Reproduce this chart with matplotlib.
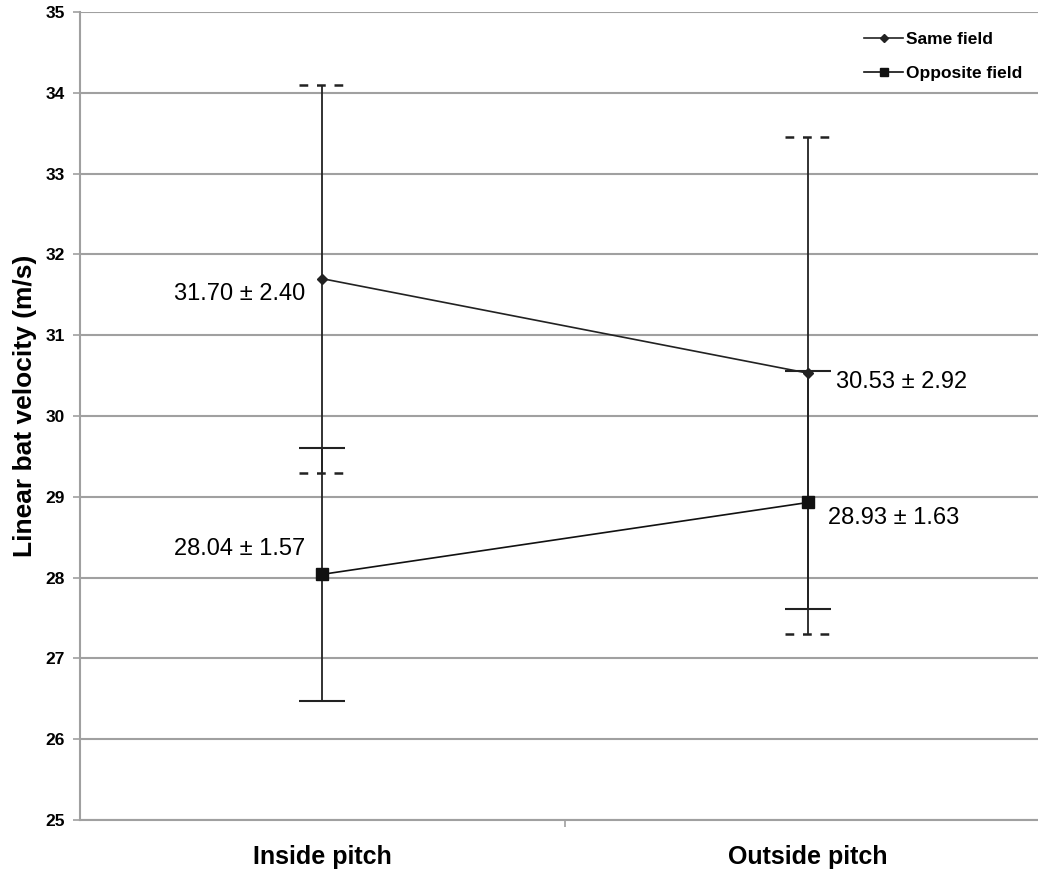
import matplotlib
matplotlib.use("Agg")
import matplotlib.pyplot as plt
import numpy as np

plt.rcParams['font.family'] = ['Liberation Sans', 'DejaVu Sans']

categories = ["Inside pitch", "Outside pitch"]
same_mean = [31.70, 30.53]
same_sd = [2.40, 2.92]
opp_mean = [28.04, 28.93]
opp_sd = [1.57, 1.63]
# cap styles (upper, lower) per category, as drawn in the reference
same_caps = [("--", "--"), ("--", "-")]
opp_caps = [("-", "-"), ("-", "--")]
yticks = list(range(25, 36))

fig = plt.figure(figsize=(10.38, 8.75), dpi=100)
ax = fig.add_axes([80/1038, 1-820/875, (1038-80)/1038, (820-12)/875])
x = np.arange(len(categories))

ax.set_ylim(25, 35)
ax.set_xlim(-0.498, 1.473)
ax.set_yticks(yticks)
ax.yaxis.grid(True, color='#a0a0a0', lw=1.5)
ax.set_axisbelow(True)
for s in ['top', 'right']:
    ax.spines[s].set_visible(False)
for s in ['left', 'bottom']:
    ax.spines[s].set_color('#a0a0a0')
    ax.spines[s].set_linewidth(1.5)

ax.set_xticks([0.5])
ax.set_xticklabels([])
ax.tick_params(axis='x', length=5, color='#a0a0a0', width=1.2)
ax.tick_params(axis='y', length=5, color='#a0a0a0', width=1.2, labelsize=12.5, pad=6)
for lab in ax.get_yticklabels():
    lab.set_fontweight('bold')

for xi, c in zip(x, categories):
    ax.text(xi, -0.0455, c, transform=ax.get_xaxis_transform(), ha='center', va='center',
            fontsize=18, fontweight='bold')

capw = 0.047

def draw_err(means, sds, caps):
    for xi, m, s, cs in zip(x, means, sds, caps):
        ax.vlines(xi, m - s, m + s, color='#222222', lw=1.3, zorder=3)
        for val, ls in ((m + s, cs[0]), (m - s, cs[1])):
            if ls == '--':
                ax.hlines(val, xi - capw, xi + capw, color='#222222', lw=1.8,
                          linestyles=(0, (3.5, 3.5)), zorder=3)
            else:
                ax.hlines(val, xi - capw, xi + capw, color='#222222', lw=1.5, zorder=3)

draw_err(same_mean, same_sd, same_caps)
draw_err(opp_mean, opp_sd, opp_caps)

ax.plot(x, same_mean, color='#222222', lw=1.2, marker='D', ms=5, zorder=4, label='Same field')
ax.plot(x, opp_mean, color='#111111', lw=1.2, marker='s', ms=8, zorder=4, label='Opposite field')

fs = 17
ax.annotate(f"{same_mean[0]:.2f} \u00b1 {same_sd[0]:.2f}", (x[0], same_mean[0]),
            xytext=(-12, -11), textcoords='offset points', ha='right', va='center', fontsize=fs)
ax.annotate(f"{opp_mean[0]:.2f} \u00b1 {opp_sd[0]:.2f}", (x[0], opp_mean[0]),
            xytext=(-12, 18), textcoords='offset points', ha='right', va='center', fontsize=fs)
ax.annotate(f"{same_mean[1]:.2f} \u00b1 {same_sd[1]:.2f}", (x[1], same_mean[1]),
            xytext=(20, -6), textcoords='offset points', ha='left', va='center', fontsize=fs)
ax.annotate(f"{opp_mean[1]:.2f} \u00b1 {opp_sd[1]:.2f}", (x[1], opp_mean[1]),
            xytext=(14, -11), textcoords='offset points', ha='left', va='center', fontsize=fs)

ax.set_ylabel("Linear bat velocity (m/s)", fontsize=19, fontweight='bold')
ax.yaxis.set_label_coords(-0.045, 0.513)

leg = ax.legend(loc='upper right', bbox_to_anchor=(1.0, 0.995), frameon=False,
                prop={'weight': 'bold', 'size': 12.5}, handlelength=2.2, handletextpad=0.2,
                labelspacing=1.1, markerscale=0.8)

fig.savefig("out.png", dpi=100)
